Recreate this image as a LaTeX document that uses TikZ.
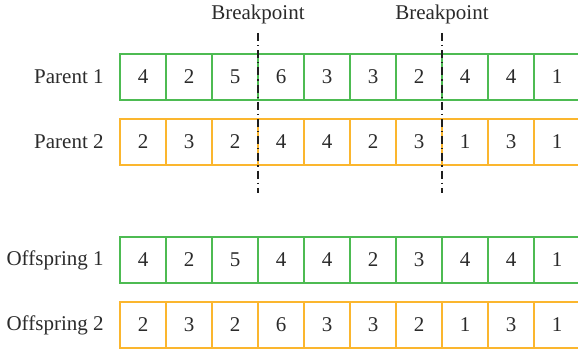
\documentclass[tikz,border=0pt]{standalone}
\usepackage{fontspec}
\setmainfont{Liberation Serif}
\usepackage{xcolor}
\usepackage{tikz}
\usetikzlibrary{positioning}
\definecolor{ink}{HTML}{2B2B2B}
\definecolor{genegreen}{HTML}{4DBB52}
\definecolor{geneamber}{HTML}{FBB62E}
\definecolor{cutline}{HTML}{1E1E1E}
\tikzset{
  gene/.style={draw,line width=0.9pt,minimum width=23pt,minimum height=23pt,inner sep=0pt,text=ink,font=\fontsize{10.5}{12}\selectfont},
  greengene/.style={gene,draw=genegreen},
  ambergene/.style={gene,draw=geneamber},
  rowlabel/.style={anchor=east,inner sep=0pt,text=ink,font=\fontsize{10.5}{12}\selectfont},
  bplabel/.style={inner sep=0pt,text=ink,font=\fontsize{10.5}{12}\selectfont},
  cut/.style={draw=cutline,line width=0.6pt,dash pattern=on 4pt off 2pt on 0.6pt off 2pt}
}
\begin{document}
\begin{tikzpicture}[x=0.5pt,y=-0.5pt]
  \useasboundingbox (0,0) rectangle (578,353);
  % row labels
  \node[rowlabel] (p1) at (104,77) {Parent 1};
  \node[rowlabel] (p2) at (104,142) {Parent 2};
  \node[rowlabel] (o1) at (104,260) {Offspring 1};
  \node[rowlabel] (o2) at (104,325) {Offspring 2};
  % chromosomes
  \foreach \g [count=\i from 0] in {4,2,5,6,3,3,2,4,4,1}
    \node[greengene] (p1g\i) at (143+46*\i,77) {\g};
  \foreach \g [count=\i from 0] in {2,3,2,4,4,2,3,1,3,1}
    \node[ambergene] (p2g\i) at (143+46*\i,142) {\g};
  \foreach \g [count=\i from 0] in {4,2,5,4,4,2,3,4,4,1}
    \node[greengene] (o1g\i) at (143+46*\i,260) {\g};
  \foreach \g [count=\i from 0] in {2,3,2,6,3,3,2,1,3,1}
    \node[ambergene] (o2g\i) at (143+46*\i,325) {\g};
  % breakpoints
  \node[bplabel] (bp1) at (258,14) {Breakpoint};
  \node[bplabel] (bp2) at (442,14) {Breakpoint};
  \coordinate (bp1top) at (258,33);
  \coordinate (bp1bot) at (258,193);
  \coordinate (bp2top) at (442,33);
  \coordinate (bp2bot) at (442,193);
  \draw[cut] (bp1top) -- (bp1bot);
  \draw[cut] (bp2top) -- (bp2bot);
\end{tikzpicture}
\end{document}
